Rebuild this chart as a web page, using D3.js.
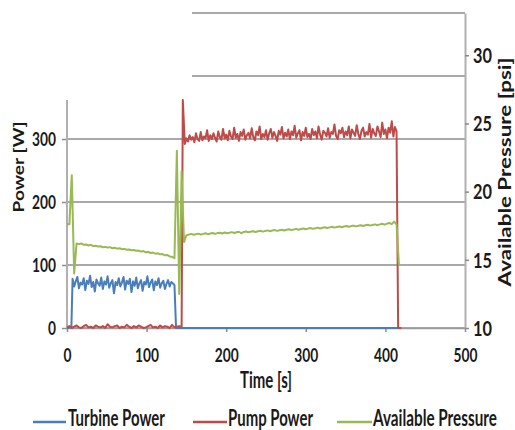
<!DOCTYPE html>
<html><head><meta charset="utf-8">
<script src="https://cdn.jsdelivr.net/npm/d3@7"></script>
<style>body{margin:0;background:#fff;} svg{display:block;}</style>
</head><body><svg id="c" width="515" height="430"></svg>
<script>
// ---------- data ----------
const turbineTime = [0,5.5,
 7,9,11,13,15,17,19,21,23,25,27,29,31,33,35,37,39,41,43,45,47,49,51,53,55,57,59,61,63,65,67,69,71,73,75,77,79,81,83,85,87,89,91,93,95,97,99,101,103,105,107,109,111,113,115,117,119,121,123,125,127,129,131,133,135,
 137,417];
const turbinePower = [0,1,
 78,66,74,81,63,72,69,79,60,75,
 70,83,65,73,58,77,71,67,80,62,
 74,69,82,64,71,76,55,73,68,79,
 66,72,81,61,75,70,78,57,74,67,
 80,63,71,76,59,73,69,82,65,72,
 77,60,74,68,79,64,71,75,62,70,
 76,66,73,71,68,
 0,0];

const pumpTime = [0,3,6,9,12,15,18,21,24,27,30,33,36,39,42,45,48,51,54,57,60,63,66,69,72,75,78,81,84,87,90,93,96,99,102,105,108,111,114,117,120,123,126,129,132,135,138,141,144,
 145.5,
 148,150,152,154,156,158,160,162,164,166,168,170,172,174,176,178,180,182,184,186,188,190,192,194,196,198,200,202,204,206,208,210,212,214,216,218,220,222,224,226,228,230,232,234,236,238,240,242,244,246,248,250,252,254,256,258,260,262,264,266,268,270,272,274,276,278,280,282,284,286,288,290,292,294,296,298,300,302,304,306,308,310,312,314,316,318,320,322,324,326,328,330,332,334,336,338,340,342,344,346,348,350,352,354,356,358,360,362,364,366,368,370,372,374,376,378,380,382,384,386,388,390,392,394,396,398,400,402,404,406,408,410,412,414,
 416,420];
const pumpPower = [1,3,0,2,4,1,0,3,5,1,2,0,4,2,1,3,0,6,2,1,3,4,0,2,1,5,2,0,3,1,4,2,0,1,3,5,1,2,0,4,1,3,2,0,5,1,2,3,2,
 362,
 292,301,296,306,299,303,295,309,300,297,
 311,298,304,301,314,297,306,300,309,302,
 296,312,303,299,316,301,307,298,313,304,
 300,318,302,308,297,311,305,315,299,306,
 310,301,317,303,298,312,306,320,300,308,
 303,314,299,309,316,302,311,305,297,313,
 307,319,301,310,304,315,300,312,306,321,
 302,309,314,298,311,305,318,303,308,300,
 316,306,312,301,320,307,299,313,310,304,
 317,302,311,308,323,305,300,314,309,318,
 303,312,306,320,301,315,310,305,322,308,
 300,313,318,304,311,307,324,302,316,309,
 305,320,312,303,326,308,315,301,318,310,
 328,304,319,312,
 0,0];

const pressureTime = [0,3,6,9,12,15,18,21,24,27,30,33,36,39,42,45,48,51,54,57,60,63,66,69,72,75,78,81,84,87,90,93,96,99,102,105,108,111,114,117,120,123,126,129,132,135,138,141,144,147,150,153,156,159,162,165,168,171,174,177,180,183,186,189,192,195,198,201,204,207,210,213,216,219,222,225,228,231,234,237,240,243,246,249,252,255,258,261,264,267,270,273,276,279,282,285,288,291,294,297,300,303,306,309,312,315,318,321,324,327,330,333,336,339,342,345,348,351,354,357,360,363,366,369,372,375,378,381,384,387,390,393,396,399,402,405,408,411,414,417];
const availablePressure = [17.6,17.6,21.2,14.0,
 16.2,16.15,16.2,16.1,16.12,16.05,16.1,16.0,16.03,15.98,
 16.0,15.92,15.95,15.9,15.93,15.85,15.88,15.82,15.85,15.78,
 15.8,15.74,15.76,15.7,15.72,15.66,15.68,15.6,15.64,15.55,
 15.58,15.5,15.53,15.45,15.48,15.4,15.42,15.33,15.36,15.25,
 15.22,15.12,
 23.0,12.5,21.5,16.3,16.8,
 16.85,16.9,16.84,16.88,16.92,16.86,16.9,16.95,16.88,16.93,
 16.97,16.9,16.96,16.99,16.93,17.0,16.95,16.98,17.03,16.97,
 17.02,17.06,16.95,17.04,17.08,17.02,17.07,17.1,17.04,17.09,
 17.13,17.07,17.12,17.16,17.1,17.15,17.18,17.12,17.17,17.21,
 17.15,17.2,17.24,17.18,17.23,17.27,17.21,17.26,17.3,17.24,
 17.29,17.33,17.27,17.32,17.36,17.3,17.35,17.39,17.33,17.38,
 17.42,17.36,17.41,17.45,17.39,17.44,17.48,17.42,17.47,17.51,
 17.45,17.5,17.54,17.48,17.53,17.57,17.51,17.56,17.6,17.54,
 17.6,17.64,17.58,17.66,17.7,17.62,17.8,
 17.6,14.6];

const timeTicks = [0,100,200,300,400,500];
const powerTicks = [0,100,200,300];
const powerGridLow = [0,100,200,300];
const powerGridHigh = [400,500];
const pressureTicks = [10,15,20,25,30];
const seriesNames = ["Turbine Power","Pump Power","Available Pressure"];
const seriesColors = ["#4a7ebb","#be4b48","#98b954"];

// ---------- chart ----------
const svg = d3.select("#c");
const FONT = "Lato, 'Open Sans', 'Liberation Sans', sans-serif";
const x = d3.scaleLinear().domain([0,500]).range([67,465]);
const yL = d3.scaleLinear().domain([0,500]).range([328,13]);
const yR = d3.scaleLinear().domain([10,33.1]).range([328,13]);

// squash a horizontal text to a target width (narrow, condensed look)
function squash(sel, widthFn){
  sel.each(function(){
    const t = d3.select(this);
    const w = this.getComputedTextLength();
    const s = widthFn(this)/w;
    const x0 = +t.attr("x")||0, y0 = +t.attr("y")||0;
    t.attr("x",0).attr("y",0).attr("transform",`translate(${x0},${y0}) scale(${s},1)`);
  });
}

// gridlines
const grid = svg.append("g").attr("stroke","#8c8c8c").attr("stroke-width",1.6);
grid.selectAll("line.lo").data(powerGridLow).join("line").attr("class","lo")
  .attr("x1",x(0)).attr("x2",x(500)).attr("y1",d=>yL(d)).attr("y2",d=>yL(d));
grid.selectAll("line.hi").data(powerGridHigh).join("line").attr("class","hi")
  .attr("x1",x(157)).attr("x2",x(500)).attr("y1",d=>yL(d)).attr("y2",d=>yL(d));

function styleTicks(g, digitW, size){
  g.selectAll(".tick line").attr("stroke","#8c8c8c").attr("stroke-width",1.5);
  const tx = g.selectAll(".tick text")
    .attr("font-family",FONT).attr("font-weight","bold").attr("font-size",size)
    .attr("fill","#1a1a1a");
  return tx;
}

// left axis
const gL = svg.append("g").attr("transform",`translate(${x(0)},0)`)
  .call(d3.axisLeft(yL).tickValues(powerTicks).tickSize(5).tickPadding(6).tickSizeOuter(0));
gL.select(".domain").remove();
gL.append("line").attr("x1",0).attr("x2",0).attr("y1",yL(0)).attr("y2",yL(362))
  .attr("stroke","#b0b0b0").attr("stroke-width",2);
squash(styleTicks(gL, 8, 19).attr("dy","0.36em"), el=>8*el.textContent.length);

// bottom axis
const gB = svg.append("g").attr("transform",`translate(0,${yL(0)})`)
  .call(d3.axisBottom(x).tickValues(timeTicks).tickSize(4).tickSizeOuter(0));
gB.select(".domain").attr("stroke","#9a9a9a").attr("stroke-width",1.6);
squash(styleTicks(gB, 8, 19).attr("y",34).attr("dy",0), el=>8*el.textContent.length);

// right axis
const gR = svg.append("g").attr("transform",`translate(${x(500)},0)`)
  .call(d3.axisRight(yR).tickValues(pressureTicks).tickSize(4).tickPadding(4).tickSizeOuter(0));
gR.select(".domain").attr("stroke","#b0b0b0").attr("stroke-width",2);
squash(styleTicks(gR, 9.5, 20).attr("dy","0.36em"), el=>9.5*el.textContent.length);

// series
function drawSeries(ts, vals, yScale, color){
  const line = d3.line().x((d,i)=>x(ts[i])).y(d=>yScale(d));
  svg.append("path").datum(vals).attr("d",line).attr("fill","none")
    .attr("stroke",color).attr("stroke-width",2).attr("stroke-linejoin","round");
}
drawSeries(turbineTime, turbinePower, yL, seriesColors[0]);
drawSeries(pumpTime, pumpPower, yL, seriesColors[1]);
drawSeries(pressureTime, availablePressure, yR, seriesColors[2]);

// axis titles
const tTitle = svg.append("text").text("Time [s]").attr("x",(x(0)+x(500))/2).attr("y",388)
  .attr("text-anchor","middle").attr("font-family",FONT).attr("font-weight","bold")
  .attr("font-size",22).attr("fill","#1a1a1a");
squash(tTitle, ()=>52);

function rotTitle(txt, cx, cy, size, capScale, len){
  const t = svg.append("text").text(txt).attr("text-anchor","middle")
    .attr("font-family",FONT).attr("font-weight","bold").attr("font-size",size).attr("fill","#1a1a1a");
  const w = t.node().getComputedTextLength();
  t.attr("transform",`translate(${cx},${cy}) scale(${capScale},1) rotate(-90) scale(${len/w},1)`);
}
rotTitle("Power [W]", 24, 167, 18, 0.85, 91);
rotTitle("Available Pressure [psi]", 511, 172, 19, 0.85, 229);

// legend
const legendX1 = [33,193,337], legendX2 = [66,227,372], legendTextX = [68,228,373], legendTextW = [97,85,124];
const lg = svg.append("g");
seriesNames.forEach((name,i)=>{
  lg.append("line").attr("x1",legendX1[i]).attr("x2",legendX2[i]).attr("y1",422).attr("y2",422)
    .attr("stroke",seriesColors[i]).attr("stroke-width",2.5);
  const t = lg.append("text").text(name).attr("x",legendTextX[i]).attr("y",426)
    .attr("font-family",FONT).attr("font-weight","bold").attr("font-size",22).attr("fill","#1a1a1a");
  squash(t, ()=>legendTextW[i]);
});
</script>
</body></html>
